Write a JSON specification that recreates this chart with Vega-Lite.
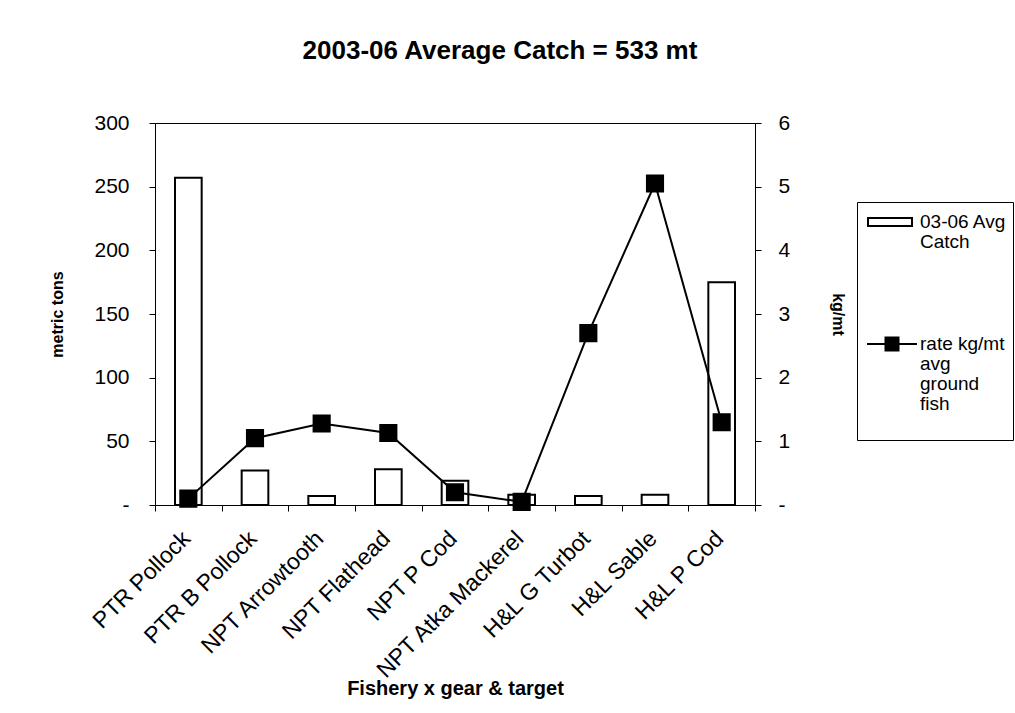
{
  "$schema": "https://vega.github.io/schema/vega-lite/v6.json",
  "width": 600,
  "height": 382,
  "autosize": "none",
  "padding": {"left": 155, "top": 123, "right": 260, "bottom": 208},
  "background": "white",
  "title": {"text": "2003-06 Average Catch = 533 mt", "fontSize": 26, "fontWeight": "bold", "font": "Liberation Sans", "anchor": "middle", "offset": 48, "dx": 45, "color": "black"},
  "config": {
    "font": "Liberation Sans",
    "view": {"stroke": "black", "strokeWidth": 1},
    "style": {"guide-label": {"lineHeight": 20}},
    "axis": {"labelFontSize": 21, "labelColor": "black", "titleColor": "black", "domainColor": "black", "tickColor": "black", "grid": false, "titleFontSize": 16, "titleFontWeight": "bold", "labelFont": "Liberation Sans", "titleFont": "Liberation Sans", "tickSize": 6}
  },
  "data": {"values": [
    {"fishery": "PTR Pollock", "catch": 257, "rate": 0.1},
    {"fishery": "PTR B Pollock", "catch": 27, "rate": 1.05},
    {"fishery": "NPT Arrowtooth", "catch": 7, "rate": 1.28},
    {"fishery": "NPT Flathead", "catch": 28, "rate": 1.13},
    {"fishery": "NPT P Cod", "catch": 19, "rate": 0.2},
    {"fishery": "NPT Atka Mackerel", "catch": 8, "rate": 0.05},
    {"fishery": "H&L G Turbot", "catch": 7, "rate": 2.7},
    {"fishery": "H&L Sable", "catch": 8, "rate": 5.05},
    {"fishery": "H&L P Cod", "catch": 175, "rate": 1.3}
  ]},
  "encoding": {
    "x": {"field": "fishery", "type": "nominal", "sort": null,
      "scale": {"paddingInner": 0, "paddingOuter": 0},
      "axis": {"labelAngle": -45, "tickBand": "extent", "labelFontSize": 23, "labelLimit": 400, "labelPadding": 16, "labelOffset": -10, "title": "Fishery x gear & target", "titleFontSize": 20, "titleX": 300, "titleY": 173, "titleAnchor": "middle"}}
  },
  "layer": [
    {
      "mark": {"type": "bar", "fill": "white", "stroke": "black", "strokeWidth": 2, "width": {"band": 0.4}},
      "encoding": {
        "y": {"field": "catch", "type": "quantitative", "scale": {"domain": [0, 300]},
          "axis": {"values": [0, 50, 100, 150, 200, 250, 300], "labelExpr": "datum.value == 0 ? '-' : datum.label", "title": "metric tons", "titlePadding": 28, "labelPadding": 20}}
      }
    },
    {
      "layer": [
        {
          "mark": {"type": "line", "stroke": "black", "strokeWidth": 2},
          "encoding": {"y": {"field": "rate", "type": "quantitative", "scale": {"domain": [0, 6]},
            "axis": {"orient": "right", "values": [0, 1, 2, 3, 4, 5, 6], "format": "d", "labelExpr": "datum.value == 0 ? '-' : datum.label", "title": "kg/mt", "titlePadding": 40, "labelPadding": 17}}}
        },
        {
          "mark": {"type": "point", "filled": true, "fill": "black", "stroke": "black", "size": 260, "opacity": 1, "shape": "square"},
          "encoding": {"y": {"field": "rate", "type": "quantitative"}}
        },
        {
          "transform": [{"filter": "false"}],
          "mark": {"type": "point", "filled": true, "fill": "black", "opacity": 1},
          "encoding": {
            "y": {"field": "rate", "type": "quantitative"},
            "shape": {"datum": "rate kg/mt avg ground fish",
              "scale": {"domain": ["03-06 Avg Catch", "rate kg/mt avg ground fish"],
                "range": ["M-0.8,-0.55H1.5V-0.05H-0.8ZM-0.7,-0.45V-0.15H1.4V-0.45Z", "M-0.8,-0.35H1.7V-0.25H-0.8ZM0.075,-0.675H0.825V0.075H0.075Z"]},
              "legend": {
                "title": null, "orient": "none", "legendX": 702, "legendY": 79,
                "strokeColor": "black", "padding": 6, "rowPadding": 78,
                "symbolSize": 1600, "symbolFillColor": "black", "symbolStrokeWidth": 0,
                "labelFontSize": 19, "labelColor": "black", "labelLimit": 200,
                "labelBaseline": "alphabetic", "labelOffset": 17,
                "labelExpr": "datum.value == '03-06 Avg Catch' ? ['03-06 Avg', 'Catch'] : ['rate kg/mt', 'avg', 'ground', 'fish', '']"
              }}
          }
        }
      ]
    }
  ],
  "resolve": {"scale": {"y": "independent"}}
}
